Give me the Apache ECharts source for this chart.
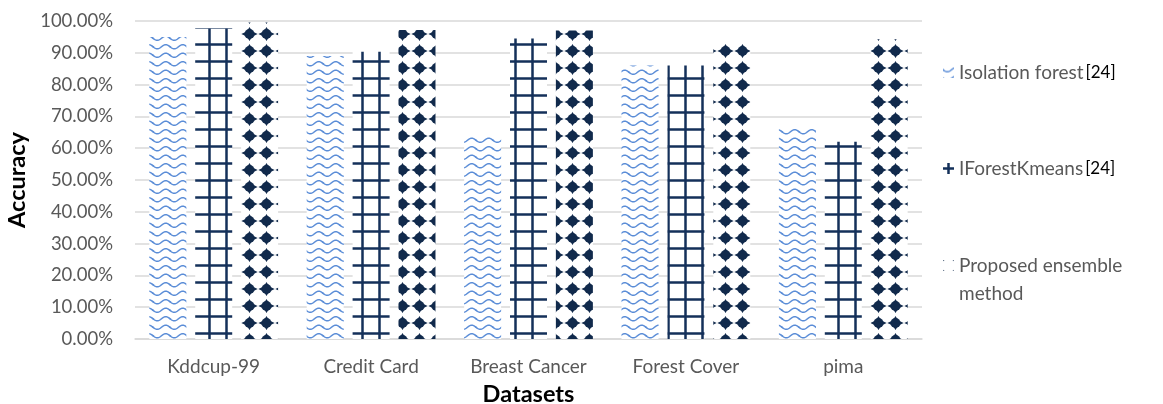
<!DOCTYPE html>
<html>
<head>
<meta charset="utf-8">
<script src="https://cdn.jsdelivr.net/npm/echarts@6/dist/echarts.min.js"></script>
<style>
  html, body { margin: 0; padding: 0; background: #fff; }
  #chart { width: 1163px; height: 404px; }
</style>
</head>
<body>
<div id="chart"></div>
<script>
// Accuracy (%) per dataset for each method
const datasets = ['Kddcup-99', 'Credit Card', 'Breast Cancer', 'Forest Cover', 'pima'];
const isolationForest = [95.0, 89.0, 64.0, 86.0, 66.0];
const iForestKmeans = [97.7, 90.3, 94.5, 86.0, 62.0];
const proposedEnsemble = [99.5, 97.2, 97.0, 93.5, 94.3];
const seriesNames = ['Isolation forest', 'IForestKmeans', 'Proposed ensemble method'];
const seriesRefs = ['[24]', '[24]', ''];

const FONT = 'Lato, "Open Sans", sans-serif';
const GRAY = '#595959';
const NAVY = '#14305a';
const TILE = 17;

// Build a repeating square tile; the drawing is repeated at the neighbouring
// offsets so shapes crossing the tile edge wrap seamlessly.
function makeTile(draw) {
  const c = document.createElement('canvas');
  c.width = TILE; c.height = TILE;
  const ctx = c.getContext('2d');
  ctx.fillStyle = '#ffffff';
  ctx.fillRect(0, 0, TILE, TILE);
  for (const dx of [-TILE, 0, TILE]) {
    for (const dy of [-TILE, 0, TILE]) {
      ctx.save();
      ctx.translate(dx, dy);
      draw(ctx);
      ctx.restore();
    }
  }
  return c;
}

// Wavy light-blue lines
const waveTile = makeTile(ctx => {
  ctx.strokeStyle = '#5b8dd7';
  ctx.lineWidth = 1.5;
  for (const y0 of [4.25, 12.75]) {
    ctx.beginPath();
    for (let x = -1; x <= TILE + 1; x += 0.5) {
      const y = y0 + 2.1 * Math.sin((x / TILE) * Math.PI * 2);
      if (x === -1) ctx.moveTo(x, y); else ctx.lineTo(x, y);
    }
    ctx.stroke();
  }
});

// Dark navy grid
const gridTile = makeTile(ctx => {
  ctx.fillStyle = NAVY;
  ctx.fillRect(4.25, 0, 2.5, TILE);
  ctx.fillRect(0, 9.25, TILE, 2.5);
});

// Dark navy rounded diamonds with small points
const diamondTile = makeTile(ctx => {
  const cx = 11.5, cy = 0;
  ctx.fillStyle = '#112a4c';
  ctx.beginPath();
  ctx.arc(cx, cy, 5.1, 0, Math.PI * 2);
  ctx.fill();
  ctx.beginPath();
  ctx.moveTo(cx + 3.8, cy - 2); ctx.lineTo(cx + 8.2, cy); ctx.lineTo(cx + 3.8, cy + 2);
  ctx.moveTo(cx - 3.8, cy - 2); ctx.lineTo(cx - 8.2, cy); ctx.lineTo(cx - 3.8, cy + 2);
  ctx.moveTo(cx - 2, cy + 3.8); ctx.lineTo(cx, cy + 7); ctx.lineTo(cx + 2, cy + 3.8);
  ctx.moveTo(cx - 2, cy - 3.8); ctx.lineTo(cx, cy - 7); ctx.lineTo(cx + 2, cy - 3.8);
  ctx.fill();
});

const tiles = [waveTile, gridTile, diamondTile];
const values = [isolationForest, iForestKmeans, proposedEnsemble];
const pattern = (img, x, y) => ({ image: img, repeat: 'repeat', x: x || 0, y: y || 0 });

// Legend swatch pattern offsets (in the swatch's own coordinates)
const iconOffsets = [[0, -1.5], [0, -5], [2.5, -3]];

const rich = {
  a: { color: GRAY, fontFamily: FONT, fontSize: 19, lineHeight: 28 },
  b: { color: '#000000', fontFamily: FONT, fontSize: 17, lineHeight: 28, padding: [0, 0, 0, 2] },
  e: { fontSize: 19, lineHeight: 28 }
};

function legendFor(i, top) {
  return {
    data: [{
      name: seriesNames[i],
      itemStyle: { color: pattern(tiles[i], iconOffsets[i][0], iconOffsets[i][1]) }
    }],
    orient: 'vertical',
    left: 943,
    top: top,
    padding: 0,
    icon: 'rect',
    itemWidth: 11,
    itemHeight: 11,
    itemGap: 0,
    selectedMode: false,
    textStyle: { rich: rich },
    formatter: name => {
      if (i === 2) return '{e| }\n{a|Proposed ensemble}\n{a|method}';
      return '{a|' + name + '}' + (seriesRefs[i] ? '{b|' + seriesRefs[i] + '}' : '');
    }
  };
}

const chart = echarts.init(document.getElementById('chart'), null, { renderer: 'canvas' });
chart.setOption({
  animation: false,
  backgroundColor: '#ffffff',
  grid: { left: 135, right: 241, top: 21, bottom: 65, containLabel: false, outerBoundsMode: 'none' },
  legend: [legendFor(0, 63), legendFor(1, 159), legendFor(2, 228)],
  xAxis: {
    type: 'category',
    data: datasets,
    name: 'Datasets',
    nameLocation: 'middle',
    nameGap: 43,
    nameTextStyle: { fontFamily: FONT, fontWeight: 'bold', fontSize: 23.5, color: '#000' },
    axisLine: { lineStyle: { color: '#d9d9d9', width: 1.5 } },
    axisTick: { show: false },
    axisLabel: { fontFamily: FONT, fontSize: 19, color: GRAY, margin: 18 }
  },
  yAxis: {
    type: 'value',
    min: 0,
    max: 100,
    interval: 10,
    name: 'Accuracy',
    nameLocation: 'middle',
    nameRotate: 90,
    nameGap: 99,
    nameTextStyle: { fontFamily: FONT, fontWeight: 'bold', fontSize: 23.5, color: '#000' },
    axisLine: { show: false },
    axisTick: { show: false },
    splitLine: { lineStyle: { color: '#d9d9d9', width: 1.5 } },
    axisLabel: {
      fontFamily: FONT, fontSize: 18.5, color: GRAY, margin: 22,
      formatter: v => v.toFixed(2) + '%'
    }
  },
  series: seriesNames.map((name, i) => ({
    name: name,
    type: 'bar',
    data: values[i],
    barWidth: 37,
    barGap: '24%',
    itemStyle: { color: pattern(tiles[i]) }
  }))
});
</script>
</body>
</html>
